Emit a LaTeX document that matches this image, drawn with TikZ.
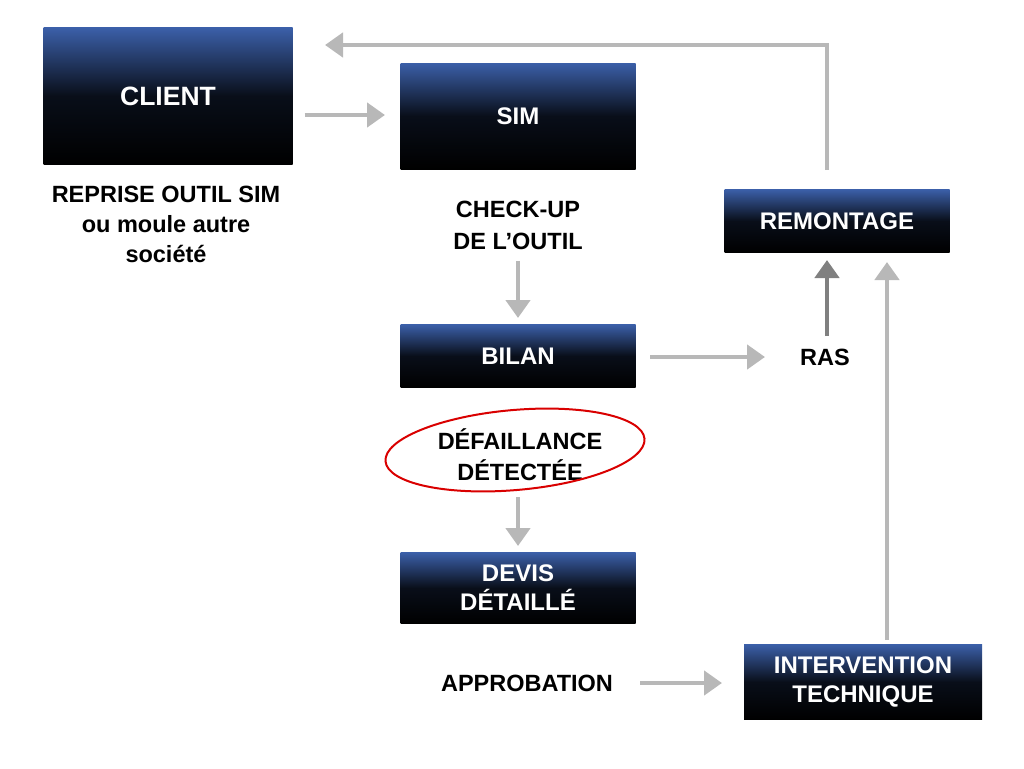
\documentclass[tikz,border=0pt]{standalone}
\usepackage{fontspec}
\setmainfont{Liberation Sans}
\usetikzlibrary{arrows.meta}
\definecolor{boxblue}{HTML}{3B5FA8}
\definecolor{arr}{HTML}{B8B8B8}
\begin{document}
\begin{tikzpicture}[x=1pt,y=-1pt,
 box/.style={draw=none,top color=boxblue,bottom color=black,middle color=black!85!boxblue,text=white,font=\bfseries\fontsize{24}{29}\selectfont,align=center,inner sep=0pt},
 lbl/.style={font=\bfseries\fontsize{23.5}{30}\selectfont,align=center,text=black},
 ar/.style={draw=arr,line width=4.5pt,-{Triangle[length=18pt,width=24pt]}}]
\useasboundingbox (0,0) rectangle (1024,768);
\node[box,minimum width=249pt,minimum height=136pt,font=\bfseries\fontsize{26.5}{30}\selectfont] (client) at (168,96) {CLIENT};
\node[box,minimum width=235pt,minimum height=106pt] (sim) at (518,116) {SIM};
\node[box,minimum width=225pt,minimum height=63pt] (rem) at (837,221) {REMONTAGE};
\node[box,minimum width=235pt,minimum height=63pt] (bilan) at (518,356) {BILAN};
\node[box,minimum width=235pt,minimum height=71pt] (devis) at (518,588) {DEVIS\\DÉTAILLÉ};
\node[box,minimum width=238pt,minimum height=75pt] (interv) at (863,682) {INTERVENTION\\TECHNIQUE};
\node[lbl] (reprise) at (166,224) {REPRISE OUTIL SIM\\ou moule autre\\société};
\node[lbl,font=\bfseries\fontsize{23.5}{32}\selectfont] (check) at (518,225) {CHECK-UP\\DE L’OUTIL};
\node[lbl] (ras) at (825,357) {RAS};
\node[lbl,font=\bfseries\fontsize{23.5}{31}\selectfont] (def) at (520,455) {DÉFAILLANCE\\DÉTECTÉE};
\node[lbl] (appro) at (527,683) {APPROBATION};
\draw[red!85!black,line width=2pt,rotate around={5:(515,450)}] (515,450) ellipse (130pt and 40pt);
\coordinate (t1) at (827,45);
\draw[ar] (client.east |- 0,115) ++(12,0) -- (385,115);
\draw[ar] (check.south) ++(0,8) -- (518,318);
\draw[ar] (650,357) -- (765,357);
\draw[ar,draw=gray] (827,336) -- (827,260);
\draw[ar] (887,640) -- (887,262);
\draw[ar] (827,170) -- (t1) -- (325,45);
\draw[ar] (518,497) -- (518,546);
\draw[ar] (640,683) -- (722,683);
\end{tikzpicture}
\end{document}
